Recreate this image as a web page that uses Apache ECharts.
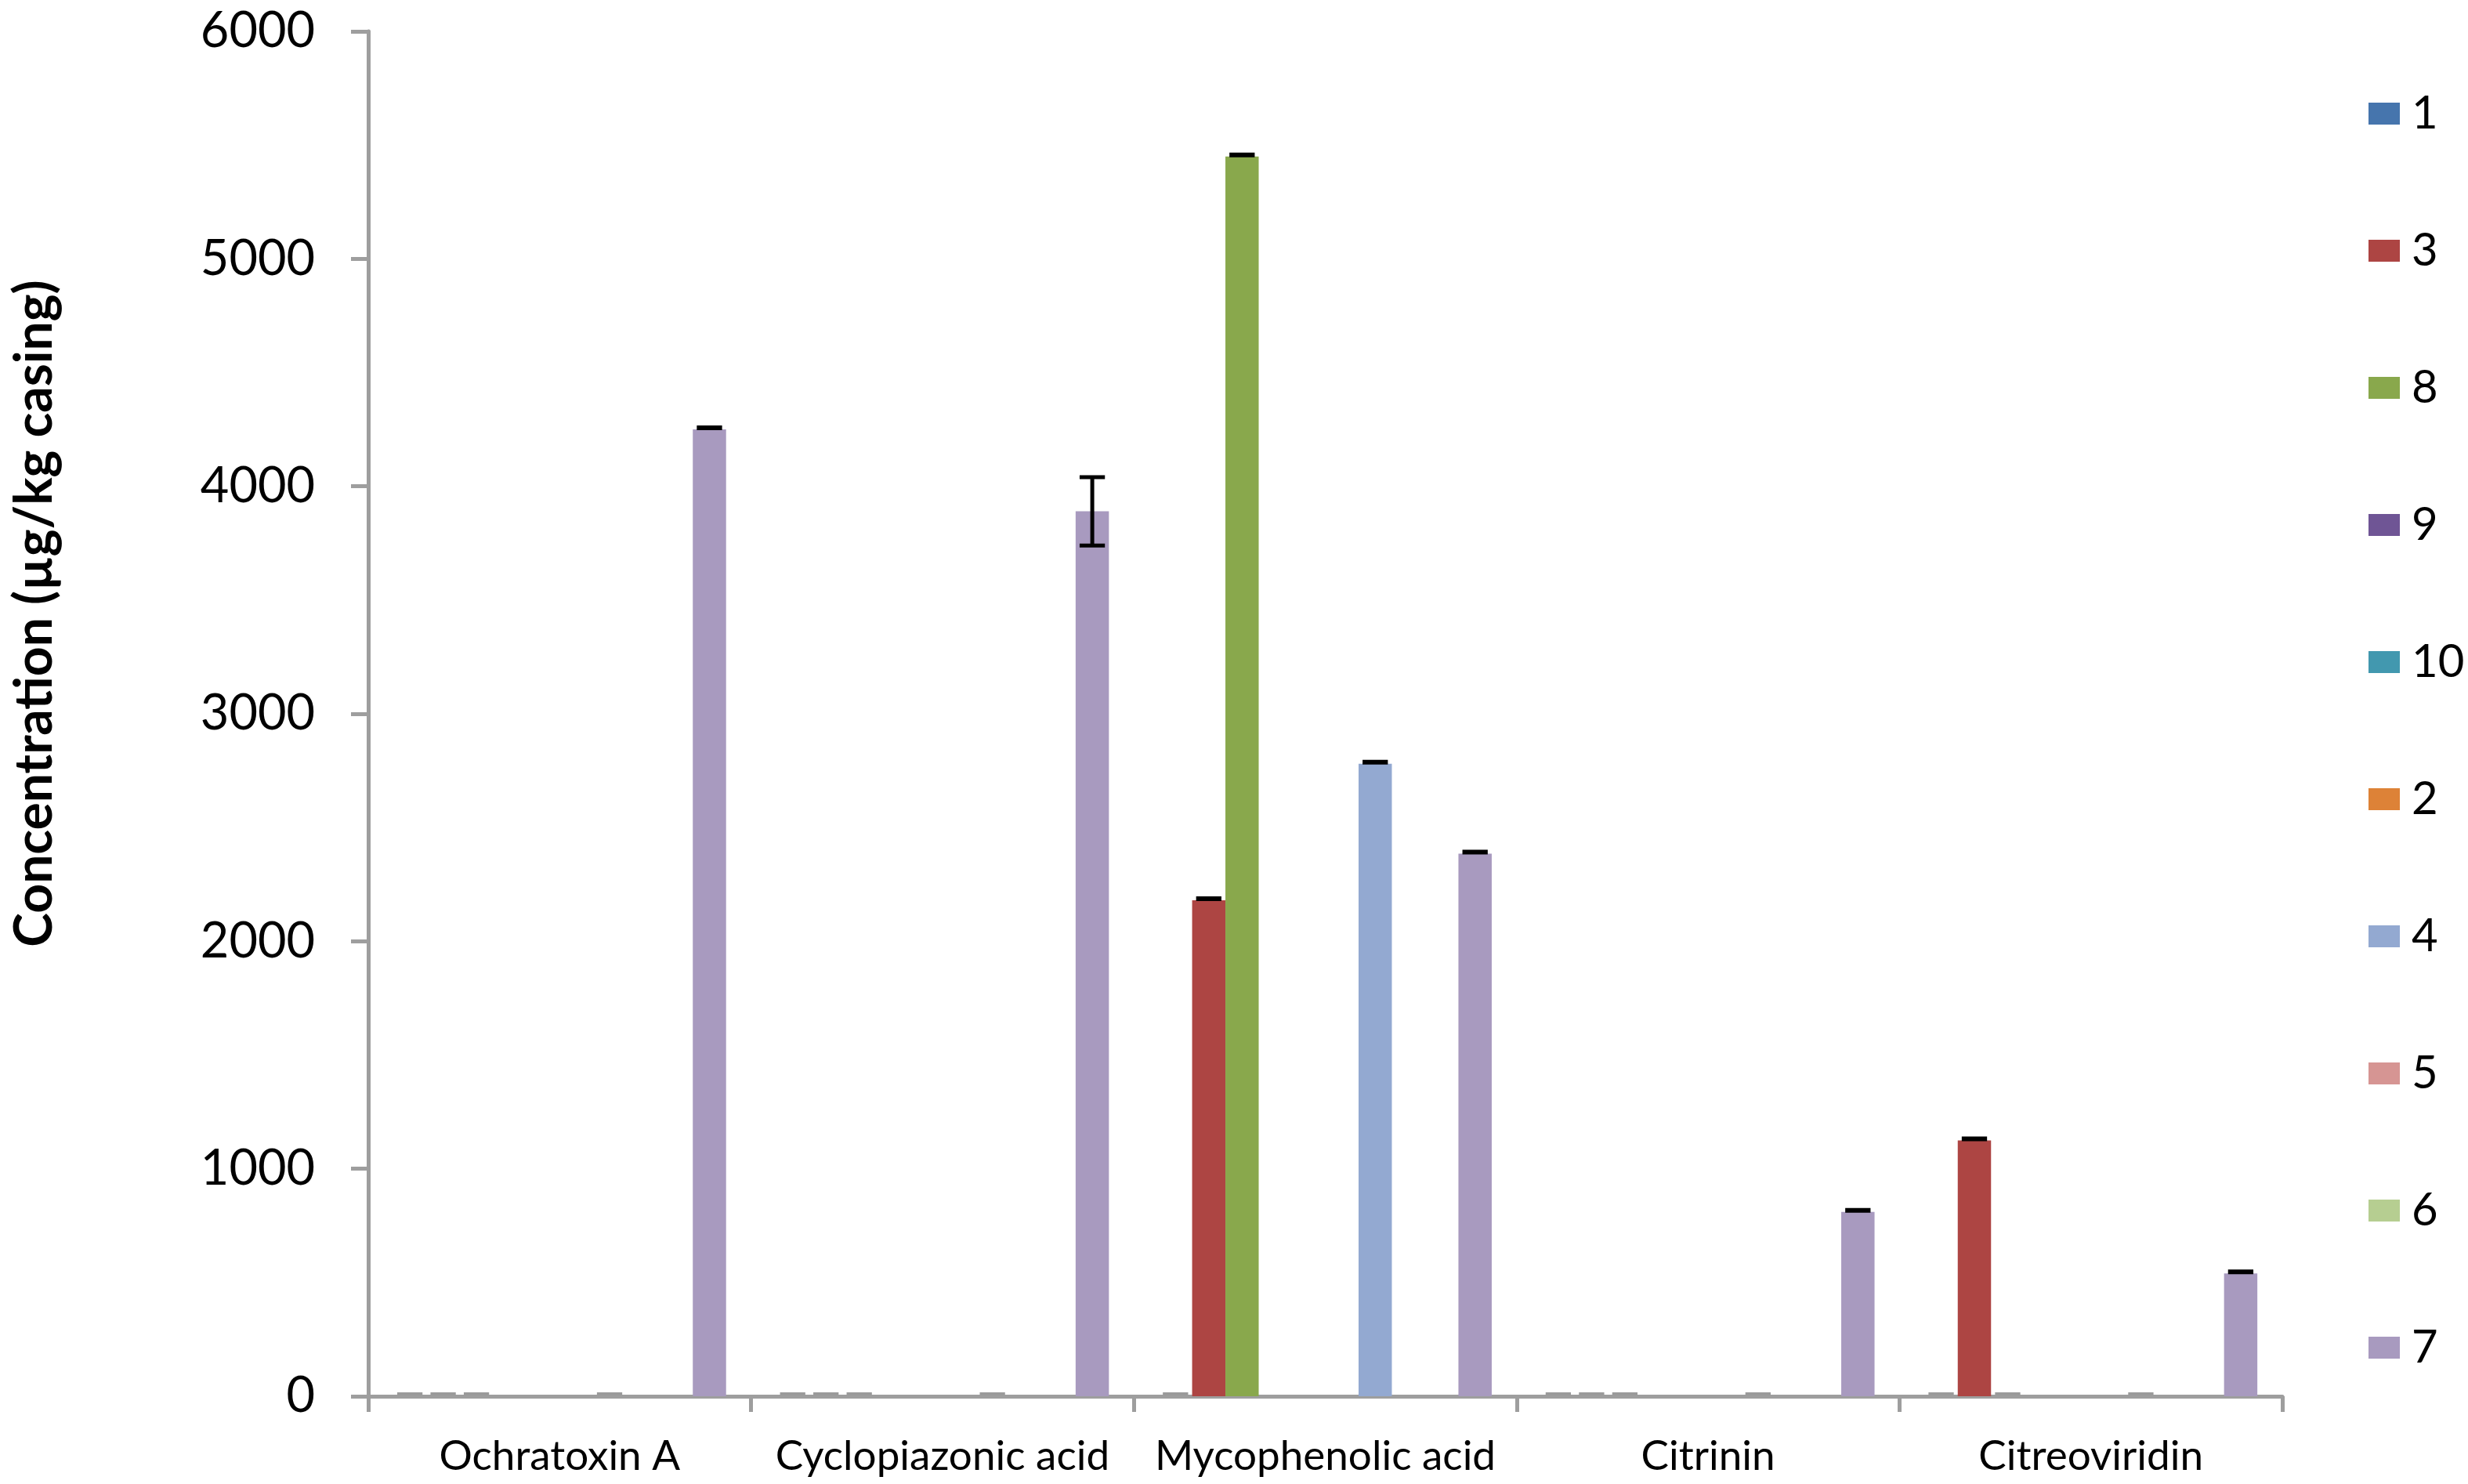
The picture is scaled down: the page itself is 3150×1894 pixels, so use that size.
<!DOCTYPE html>
<html>
<head>
<meta charset="utf-8">
<script src="https://cdn.jsdelivr.net/npm/echarts@6/dist/echarts.min.js"></script>
<style>html,body{margin:0;padding:0;background:#fff}#c{width:3150px;height:1894px}</style>
</head>
<body>
<div id="c"></div>
<script>
const categories = ['Ochratoxin A', 'Cyclopiazonic acid', 'Mycophenolic acid', 'Citrinin', 'Citreoviridin'];
const seriesNames = ['1', '3', '8', '9', '10', '2', '4', '5', '6', '7'];
const s1  = [0, 0, 0, 0, 0];
const s3  = [0, 0, 2180, 0, 1125];
const s8  = [0, 0, 5450, 0, 0];
const s9  = [null, null, null, null, null];
const s10 = [null, null, null, null, null];
const s2  = [null, null, null, null, null];
const s4  = [0, 0, 2780, 0, 0];
const s5  = [null, null, null, null, null];
const s6  = [null, null, null, null, null];
const s7  = [4250, 3890, 2385, 810, 540];
const err7 = [0, 150, 0, 0, 0];
const yTicks = [0, 1000, 2000, 3000, 4000, 5000, 6000];

const seriesValues = [s1, s3, s8, s9, s10, s2, s4, s5, s6, s7];
const seriesErrors = [null, null, null, null, null, null, null, null, null, err7];
const colors = ['#4675AD', '#AD4543', '#89A84C', '#6F5595', '#4298AF', '#DD8237', '#93A9D1', '#D69593', '#B6CE91', '#A89ABF'];

const FONT = 'Lato';
const nSeries = seriesNames.length;
const slots = nSeries + 1.5;

const chart = echarts.init(document.getElementById('c'), null, {renderer: 'canvas'});

const series = [];
seriesNames.forEach((name, i) => {
  series.push({
    name: name, type: 'bar', data: seriesValues[i],
    itemStyle: {color: colors[i]},
    barGap: '0%', barCategoryGap: (1.5 / slots * 100).toFixed(3) + '%',
    animation: false
  });
});
// error bars
seriesNames.forEach((name, i) => {
  const vals = seriesValues[i];
  const errs = seriesErrors[i] || vals.map(() => 0);
  const data = [];
  vals.forEach((v, k) => { if (v !== null) data.push([k, v, errs[k], i]); });
  if (!data.length) return;
  series.push({
    name: 'err-' + name, type: 'custom', z: 10, animation: false,
    encode: {x: 0, y: 1},
    data: data,
    renderItem: function (params, api) {
      const k = api.value(0), v = api.value(1), e = api.value(2), pos = api.value(3);
      const band = api.size([1, 0])[0];
      const bw = band / slots;
      const c = api.coord([k, v]);
      const x = c[0] - band / 2 + bw * (0.75 + pos + 0.5);
      const half = bw * 0.38;
      if (v === 0) {
        const y = c[1] - 3;
        return {type: 'line', shape: {x1: x - half, y1: y, x2: x + half, y2: y},
          style: {stroke: '#9a9a9a', lineWidth: 4}};
      }
      if (!e) {
        const y = c[1] - 2;
        return {type: 'line', shape: {x1: x - half, y1: y, x2: x + half, y2: y},
          style: {stroke: '#000', lineWidth: 6}};
      }
      const hi = api.coord([k, v + e])[1], lo = api.coord([k, v - e])[1];
      return {type: 'group', children: [
        {type: 'line', shape: {x1: x, y1: hi, x2: x, y2: lo}, style: {stroke: '#000', lineWidth: 5}},
        {type: 'line', shape: {x1: x - half, y1: hi, x2: x + half, y2: hi}, style: {stroke: '#000', lineWidth: 5}},
        {type: 'line', shape: {x1: x - half, y1: lo, x2: x + half, y2: lo}, style: {stroke: '#000', lineWidth: 5}}
      ]};
    }
  });
});

chart.setOption({
  backgroundColor: '#fff',
  animation: false,
  textStyle: {fontFamily: FONT},
  grid: {left: 470, right: 237, top: 40, bottom: 112, containLabel: false},
  legend: {
    orient: 'vertical', left: 3018, top: 110,
    data: seriesNames, icon: 'rect', itemWidth: 40, itemHeight: 28, itemGap: 115,
    textStyle: {fontFamily: FONT, fontSize: 58, color: '#000', lineHeight: 60, padding: [0, 0, 0, 10]},
    selectedMode: false
  },
  xAxis: {
    type: 'category', data: categories,
    axisLine: {lineStyle: {color: '#9e9e9e', width: 5}},
    axisTick: {show: true, length: 20, lineStyle: {color: '#9e9e9e', width: 5}},
    axisLabel: {fontFamily: FONT, fontSize: 53, color: '#000', margin: 50, interval: 0}
  },
  yAxis: {
    type: 'value', min: yTicks[0], max: yTicks[yTicks.length - 1], interval: 1000,
    splitLine: {show: false},
    axisLine: {show: true, lineStyle: {color: '#9e9e9e', width: 5}},
    axisTick: {show: true, length: 22, lineStyle: {color: '#9e9e9e', width: 5}},
    axisLabel: {fontFamily: FONT, fontSize: 63, color: '#000', margin: 68,
      formatter: function (v) { return String(v); }}
  },
  graphic: [{
    type: 'text', x: 45, y: 783, rotation: Math.PI / 2,
    style: {text: 'Concentration (µg/kg casing)', fontFamily: FONT, fontWeight: 'bold', fontSize: 66,
      fill: '#000', align: 'center', verticalAlign: 'middle'}
  }],
  series: series
});
</script>
</body>
</html>
